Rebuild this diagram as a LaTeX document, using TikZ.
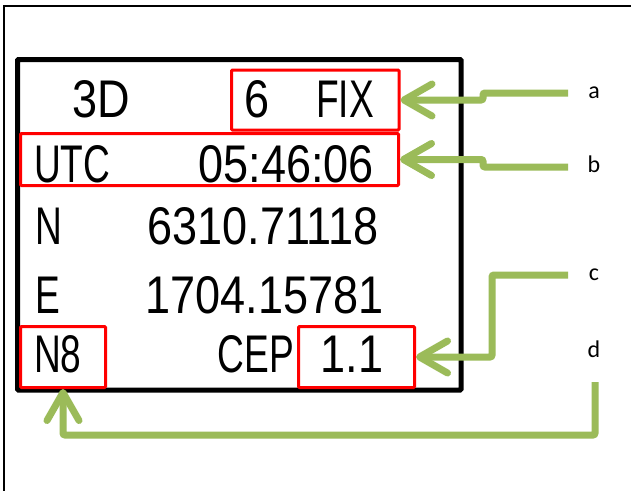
\documentclass[tikz,border=0pt]{standalone}
\usepackage{fontspec}
\newfontfamily\lcdtext{Liberation Sans}[FakeStretch=0.7]
\newfontfamily\lcdnum{Liberation Sans}[FakeStretch=0.85]
\newfontfamily\tagfont{Carlito}
\usetikzlibrary{arrows.meta}
\definecolor{lcdgreen}{HTML}{9BBB59}

\begin{document}
\begin{tikzpicture}[x=1pt,y=-1pt,
    lcd/.style={font=\lcdtext\fontsize{53}{60}\selectfont,inner sep=0pt},
    lcdval/.style={font=\lcdnum\fontsize{53}{60}\selectfont,inner sep=0pt},
    hilite/.style={draw=red,line width=3pt,inner sep=0pt,rounded corners=1pt},
    tag/.style={font=\tagfont\fontsize{24}{28}\selectfont},
    pointer/.style={draw=lcdgreen,line width=7pt,rounded corners=2pt,
      -{Straight Barb[length=28pt,width=32pt,round]}}]
  \useasboundingbox (0,0) rectangle (631,490);
  \fill[white] (0,0) rectangle (631,490);
  \begin{scope}
    \clip (0,0) rectangle (631,490);
    \draw[line width=1.5pt] (4,6) rectangle (660,520);
  \end{scope}
  % display
  \draw[line width=5pt,rounded corners=1pt] (17.5,59.5) rectangle (461,390);
  % highlighted fields
  \node[hilite,minimum width=167.5pt,minimum height=60pt] (fixbox) at (315.25,100) {};
  \node[hilite,minimum width=378pt,minimum height=52pt] (utcbox) at (209.5,159.5) {};
  \node[hilite,minimum width=85pt,minimum height=61pt] (satbox) at (63,357) {};
  \node[hilite,minimum width=116pt,minimum height=61pt] (cepbox) at (356.5,357) {};
  % screen text
  \node[lcdval,anchor=base west] (dim) at (72,117) {3D};
  \node[lcdval,anchor=base] (sats) at (257,117) {6};
  \node[lcd,anchor=base east] (fix) at (374,117) {FIX};
  \node[lcd,anchor=base west] (utc) at (34,182) {UTC};
  \node[lcdval,anchor=base east] (time) at (374,182) {05:46:06};
  \node[lcd,anchor=base west] (nlab) at (35,244) {N};
  \node[lcdval,anchor=base east] (north) at (379,244) {6310.71118};
  \node[lcd,anchor=base west] (elab) at (35,313) {E};
  \node[lcdval,anchor=base east] (east) at (384,313) {1704.15781};
  \node[lcd,anchor=base west] (nsat) at (34,372) {N8};
  \node[lcd,anchor=base east] (cep) at (294,372) {CEP};
  \node[lcdval,anchor=base] (cepval) at (352,372) {1.1};
  % callout letters
  \node[tag] (la) at (594,93) {a};
  \node[tag] (lb) at (594,164) {b};
  \node[tag] (lc) at (594,275) {c};
  \node[tag] (ld) at (594,349) {d};
  \coordinate (ta) at (568,93);
  \coordinate (tb) at (568,167);
  \coordinate (tc) at (568,275);
  \coordinate (td) at (595,382);
  % pointers
  \draw[pointer] (ta) -- (483,93) |- (fixbox.east);
  \draw[pointer] (tb) -- (483,167) |- (utcbox.east);
  \draw[pointer] (tc) -- (492,275) |- (cepbox.east);
  \draw[pointer] (td) -- (595,435) -| (satbox.south);
\end{tikzpicture}
\end{document}
